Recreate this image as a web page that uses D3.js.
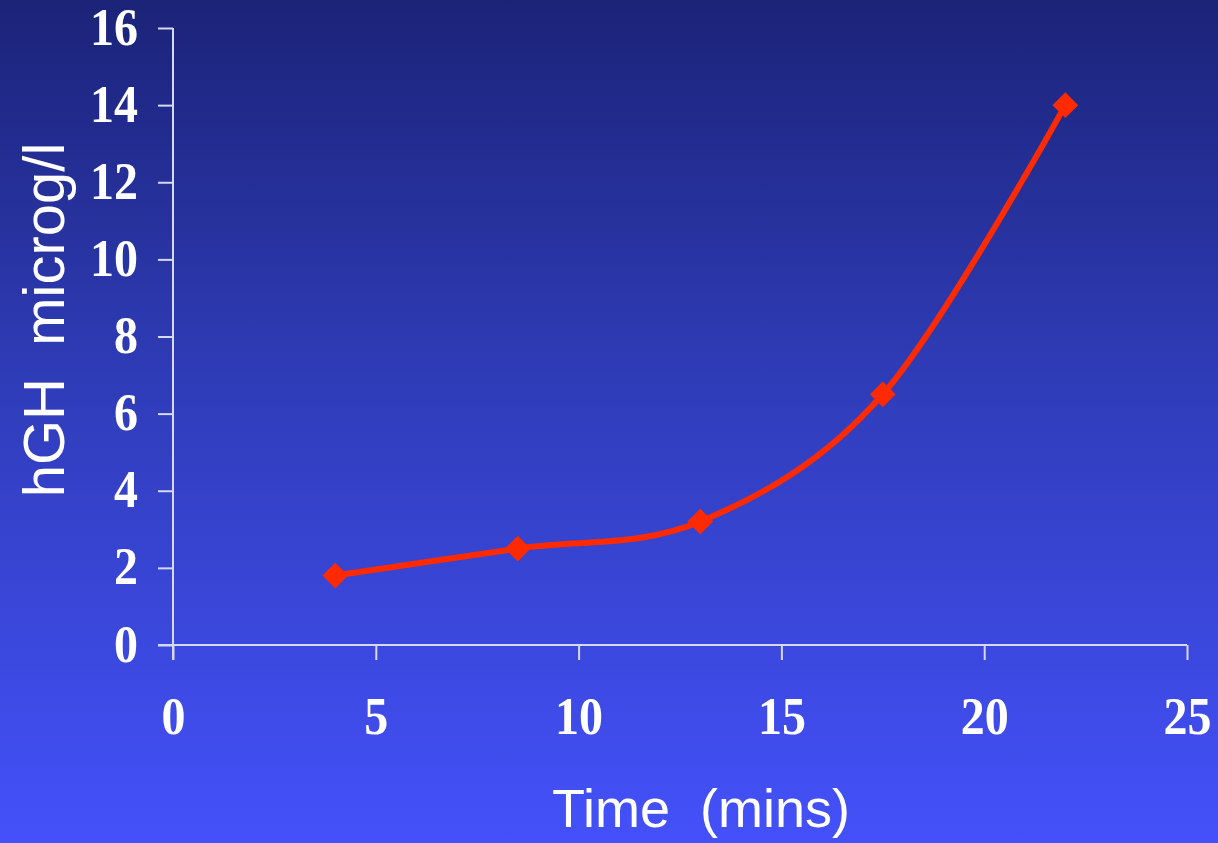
<!DOCTYPE html>
<html>
<head>
<meta charset="utf-8">
<script src="https://cdn.jsdelivr.net/npm/d3@7"></script>
<style>
  html, body { margin: 0; padding: 0; background: #2b35b0; }
  svg { display: block; }
</style>
</head>
<body>
<svg id="chart" width="1218" height="843"></svg>
<script>
// hGH concentration over time
const timeMins = [4, 8.5, 13, 17.5, 22];
const hghValues = [1.8, 2.5, 3.2, 6.5, 14];
const xTicks = [0, 5, 10, 15, 20, 25];
const yTicks = [0, 2, 4, 6, 8, 10, 12, 14, 16];

const W = 1218, H = 843;
const svg = d3.select("#chart");

// vertical background gradient, dark navy to bright blue
const defs = svg.append("defs");
const grad = defs.append("linearGradient")
  .attr("id", "bg").attr("x1", 0).attr("y1", 0).attr("x2", 0).attr("y2", 1);
grad.append("stop").attr("offset", "0%").attr("stop-color", "#1b2378");
grad.append("stop").attr("offset", "45%").attr("stop-color", "#2f3cb8");
grad.append("stop").attr("offset", "100%").attr("stop-color", "#4451fa");
svg.append("rect").attr("width", W).attr("height", H).attr("fill", "url(#bg)");

const x = d3.scaleLinear().domain([0, 25]).range([173, 1187]);
const y = d3.scaleLinear().domain([0, 16]).range([645, 28]);

const axisColor = "#d6d8f4";
const tickFont = "'Liberation Serif', 'Times New Roman', serif";

// x axis
const gx = svg.append("g").attr("transform", `translate(0,${y(0)})`)
  .call(d3.axisBottom(x).tickValues(xTicks).tickSize(15).tickSizeOuter(0).tickFormat(d3.format("d")));
gx.select(".domain").attr("stroke", axisColor).attr("stroke-width", 2)
  .attr("d", `M${x(0) - 15},0H${x(25)}`);
gx.selectAll(".tick line").attr("stroke", axisColor).attr("stroke-width", 2);
gx.selectAll(".tick text")
  .attr("fill", "#ffffff")
  .attr("font-family", tickFont)
  .attr("font-weight", "bold")
  .attr("font-size", 48)
  .attr("y", 0)
  .attr("dy", 0)
  .attr("transform", "translate(0,89) scale(1,1.12)");

// y axis
const gy = svg.append("g").attr("transform", `translate(${x(0)},0)`)
  .call(d3.axisLeft(y).tickValues(yTicks).tickSize(15).tickSizeOuter(0).tickFormat(d3.format("d")));
gy.select(".domain").attr("stroke", axisColor).attr("stroke-width", 2)
  .attr("d", `M0,${y(16)}V${y(0) + 15}`);
gy.selectAll(".tick text")
  .attr("fill", "#ffffff")
  .attr("font-family", tickFont)
  .attr("font-weight", "bold")
  .attr("font-size", 48)
  .attr("x", 0)
  .attr("dy", 0)
  .attr("transform", "translate(-35,16) scale(1,1.12)");
gy.selectAll(".tick line").attr("stroke", axisColor).attr("stroke-width", 2);

// smooth data line
const line = d3.line()
  .x((d, i) => x(timeMins[i]))
  .y(d => y(d))
  .curve(d3.curveCatmullRom.alpha(0));
svg.append("path")
  .datum(hghValues)
  .attr("d", line)
  .attr("fill", "none")
  .attr("stroke", "#ff2a00")
  .attr("stroke-width", 6)
  .attr("stroke-linejoin", "round");

// diamond markers
svg.selectAll("path.marker")
  .data(hghValues)
  .join("path")
  .attr("class", "marker")
  .attr("d", d3.symbol().type(d3.symbolSquare).size(330))
  .attr("transform", (d, i) => `translate(${x(timeMins[i])},${y(d)}) rotate(45)`)
  .attr("fill", "#ff2a00");

// axis titles
const titleFont = "'Liberation Sans', Arial, sans-serif";
svg.append("text")
  .attr("x", 701).attr("y", 827)
  .attr("text-anchor", "middle")
  .attr("fill", "#ffffff")
  .attr("font-family", titleFont)
  .attr("font-size", 54)
  .attr("xml:space", "preserve")
  .text("Time  (mins)");

svg.append("text")
  .attr("transform", "translate(64,320) rotate(-90)")
  .attr("text-anchor", "middle")
  .attr("fill", "#ffffff")
  .attr("font-family", titleFont)
  .attr("font-size", 58)
  .attr("xml:space", "preserve")
  .text("hGH  microg/l");
</script>
</body>
</html>
